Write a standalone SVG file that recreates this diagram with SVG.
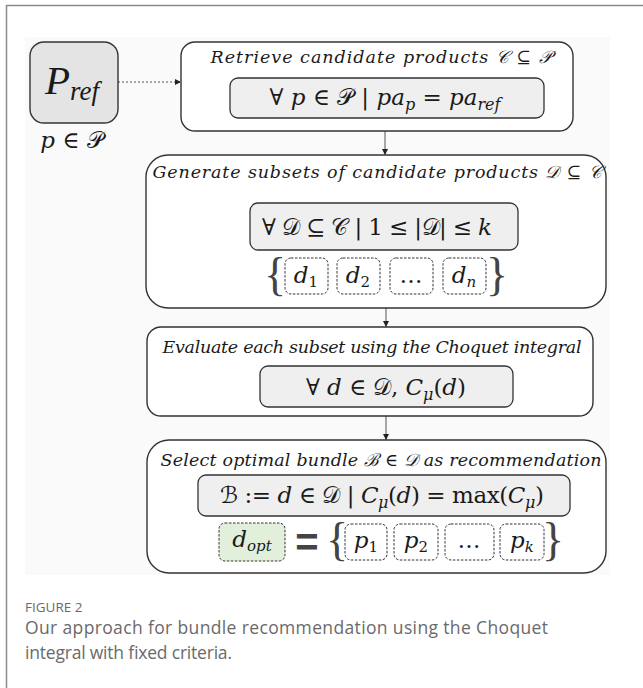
<svg xmlns="http://www.w3.org/2000/svg" width="643" height="688" viewBox="0 0 643 688">
<style>
.frame{fill:none;stroke:#8a8a8a;stroke-width:1.5}
.box{fill:#fff;stroke:#333;stroke-width:1.4}
.inner{fill:#efefef;stroke:#333;stroke-width:1.3}
.dash{fill:#fff;stroke:#333;stroke-width:1;stroke-dasharray:2.5 1.5}
.title{font-family:"DejaVu Serif","Liberation Serif",serif;font-style:italic;font-size:17.5px;fill:#1a1a1a}
.math{font-family:"DejaVu Serif","Liberation Serif","DejaVu Sans",serif;font-size:23px;fill:#1a1a1a}
.i{font-style:italic}
.conn{stroke:#555;stroke-width:1;fill:none}
.brace{font-family:"Liberation Serif",serif;font-size:46px;fill:#444}
.cap{font-family:"Open Sans","Liberation Sans",sans-serif;fill:#6a6a6a}
</style>
<defs>
<marker id="ah" markerWidth="6" markerHeight="6" refX="6" refY="3" orient="auto" markerUnits="userSpaceOnUse"><path d="M0,0 L6,3 L0,6 z" fill="#222"/></marker>
</defs>
<path class="frame" d="M6.5,688 V5.5 H643"/>
<rect x="25" y="37" width="585" height="538" fill="#fafafa"/>

<g id="connectors">
<line class="conn" x1="118" y1="82" x2="181" y2="82" stroke-dasharray="2 2" marker-end="url(#ah)"/>
<line class="conn" x1="385" y1="131" x2="385" y2="155" marker-end="url(#ah)"/>
<line class="conn" x1="386" y1="308" x2="386" y2="327" marker-end="url(#ah)"/>
<line class="conn" x1="386" y1="416" x2="386" y2="440" marker-end="url(#ah)"/>
</g>

<g id="pref">
<rect x="30" y="42" width="88" height="81" rx="14" fill="#e4e4e4" stroke="#333" stroke-width="1.4"/>
<text x="72" y="94" text-anchor="middle" font-family="Liberation Serif,serif" fill="#1a1a1a" font-style="italic"><tspan font-size="41">P</tspan><tspan font-size="27" dy="6">ref</tspan></text>
<text class="math" x="72" y="148" text-anchor="middle" font-size="19"><tspan class="i">p</tspan> ∈ 𝒫</text>
</g>

<g id="retrieve">
<rect class="box" x="181" y="42" width="392" height="89" rx="14"/>
<text class="title" x="381" y="63" text-anchor="middle" textLength="341">Retrieve candidate products 𝒞 ⊆ 𝒫</text>
<rect class="inner" x="230" y="78" width="314" height="40" rx="8"/>
<text class="math" x="385" y="105" text-anchor="middle" font-size="24">∀ <tspan class="i">p</tspan> ∈ 𝒫 | <tspan class="i">pa</tspan><tspan class="i" font-size="16" dy="5">p</tspan><tspan dy="-5"> = </tspan><tspan class="i">pa</tspan><tspan class="i" font-size="16" dy="5">ref</tspan></text>
</g>

<g id="generate">
<rect class="box" x="146" y="155" width="460" height="153" rx="22"/>
<text class="title" x="377" y="178" text-anchor="middle" textLength="449">Generate subsets of candidate products 𝒟 ⊆ 𝒞</text>
<rect class="inner" x="250" y="203" width="268" height="47" rx="8"/>
<text class="math" x="377" y="235" text-anchor="middle" textLength="230">∀ 𝒟 ⊆ 𝒞 | 1 ≤ |𝒟| ≤ <tspan class="i">k</tspan></text>
<text class="brace" x="275" y="290" text-anchor="middle">{</text>
<rect class="dash" x="285" y="258" width="43" height="36" rx="6"/>
<rect class="dash" x="337" y="258" width="43" height="36" rx="6"/>
<rect class="dash" x="390" y="258" width="43" height="36" rx="6"/>
<rect class="dash" x="443" y="258" width="43" height="36" rx="6"/>
<text class="math" x="306" y="283" text-anchor="middle" font-size="21"><tspan class="i">d</tspan><tspan font-size="15" dy="4">1</tspan></text>
<text class="math" x="358" y="283" text-anchor="middle" font-size="21"><tspan class="i">d</tspan><tspan font-size="15" dy="4">2</tspan></text>
<text class="math" x="411" y="283" text-anchor="middle" font-size="14">…</text>
<text class="math" x="464" y="283" text-anchor="middle" font-size="21"><tspan class="i">d</tspan><tspan class="i" font-size="15" dy="4">n</tspan></text>
<text class="brace" x="497" y="290" text-anchor="middle">}</text>
</g>

<g id="evaluate">
<rect class="box" x="147" y="327" width="446" height="89" rx="14"/>
<text class="title" x="372" y="353" text-anchor="middle" textLength="419">Evaluate each subset using the Choquet integral</text>
<rect class="inner" x="260" y="366" width="253" height="41" rx="8"/>
<text class="math" x="386" y="395" text-anchor="middle" textLength="160">∀ <tspan class="i">d</tspan> ∈ 𝒟,  <tspan class="i">C</tspan><tspan class="i" font-size="16" dy="5">μ</tspan><tspan dy="-5">(</tspan><tspan class="i">d</tspan>)</text>
</g>

<g id="select">
<rect class="box" x="147" y="440" width="459" height="133" rx="22"/>
<text class="title" x="381" y="466" text-anchor="middle" textLength="441">Select optimal bundle ℬ ∈ 𝒟 as recommendation</text>
<rect class="inner" x="198" y="475" width="372" height="41" rx="8"/>
<text class="math" x="382" y="503" text-anchor="middle" textLength="324">ℬ :=  <tspan class="i">d</tspan> ∈ 𝒟 | <tspan class="i">C</tspan><tspan class="i" font-size="16" dy="5">μ</tspan><tspan dy="-5">(</tspan><tspan class="i">d</tspan>) = max(<tspan class="i">C</tspan><tspan class="i" font-size="16" dy="5">μ</tspan><tspan dy="-5">)</tspan></text>
<rect x="219" y="523" width="66" height="38" rx="6" fill="#e2efda" stroke="#333" stroke-width="1" stroke-dasharray="2.5 1.5"/>
<text class="math" x="252" y="547" text-anchor="middle" font-size="21"><tspan class="i">d</tspan><tspan class="i" font-size="15" dy="4">opt</tspan></text>
<text x="307" y="556" text-anchor="middle" font-family="Liberation Sans,sans-serif" font-weight="bold" font-size="40" fill="#444">=</text>
<text class="brace" x="337" y="555" text-anchor="middle">{</text>
<rect class="dash" x="345" y="524" width="42" height="36" rx="6"/>
<rect class="dash" x="394" y="524" width="44" height="36" rx="6"/>
<rect class="dash" x="445" y="524" width="49" height="36" rx="6"/>
<rect class="dash" x="500" y="524" width="44" height="36" rx="6"/>
<text class="math" x="366" y="548" text-anchor="middle" font-size="21"><tspan class="i">p</tspan><tspan font-size="15" dy="4">1</tspan></text>
<text class="math" x="416" y="548" text-anchor="middle" font-size="21"><tspan class="i">p</tspan><tspan font-size="15" dy="4">2</tspan></text>
<text class="math" x="469" y="548" text-anchor="middle" font-size="14">…</text>
<text class="math" x="522" y="548" text-anchor="middle" font-size="21"><tspan class="i">p</tspan><tspan class="i" font-size="15" dy="4">k</tspan></text>
<text class="brace" x="553" y="555" text-anchor="middle">}</text>
</g>

<g id="caption">
<text class="cap" x="25" y="612" font-size="13.5">FIGURE 2</text>
<text class="cap" x="25" y="634" font-size="17.5" textLength="523">Our approach for bundle recommendation using the Choquet</text>
<text class="cap" x="25" y="659" font-size="17.5" textLength="207">integral with fixed criteria.</text>
</g>
</svg>
